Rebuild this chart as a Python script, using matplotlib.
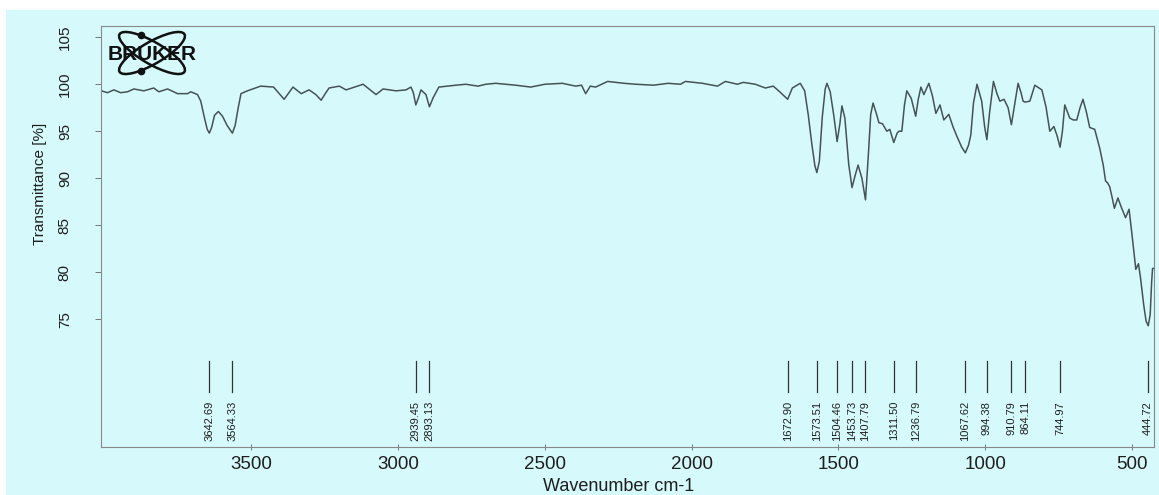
import numpy as np
import matplotlib
matplotlib.use('Agg')
import matplotlib.pyplot as plt
from matplotlib.patches import Ellipse, Rectangle

plt.rcParams['font.family'] = ['Liberation Sans', 'DejaVu Sans']

# ---------------------------------------------
# IR spectrum
# ---------------------------------------------
wavenumber = [
    4010, 3990, 3968, 3945, 3921, 3900, 3866, 3832, 3815, 3785, 3751, 3717, 3706, 3683,
    3672, 3660, 3650, 3642.69, 3635, 3625, 3612, 3598, 3582, 3564.33, 3555, 3545, 3535, 3513,
    3468, 3424, 3388, 3358, 3330, 3303, 3280, 3262, 3248, 3235, 3200, 3177, 3119, 3075, 3051,
    3007, 2973, 2956, 2948, 2939.45, 2930, 2922, 2905, 2893.13, 2880, 2861, 2803, 2769,
    2728, 2701, 2667, 2600, 2548, 2500, 2440, 2395, 2375, 2361, 2345, 2327, 2286, 2230,
    2190, 2130, 2080, 2038, 2021, 1963, 1912, 1885, 1844, 1824, 1783, 1749, 1722, 1700,
    1672.90, 1657, 1630, 1615, 1603, 1590, 1580, 1573.51, 1565, 1555, 1545, 1539, 1528,
    1515, 1504.46, 1495, 1488, 1478, 1465, 1453.73, 1443, 1433, 1420, 1407.79, 1398, 1390,
    1382, 1370, 1362, 1350, 1335, 1325, 1311.50, 1300, 1294, 1284, 1275, 1267, 1252, 1236.79,
    1228, 1219, 1209, 1192, 1180, 1168, 1154, 1141, 1124, 1110, 1097, 1080, 1067.62, 1057,
    1049, 1040, 1028, 1012, 1002, 994.38, 985, 972, 960, 950, 936, 922, 910.79, 900, 888,
    878, 871, 864.11, 848, 831, 807, 793, 780, 766, 755, 744.97, 737, 729, 712, 700, 688,
    677, 667, 655, 644, 627, 610, 598, 590, 583, 576, 568, 560, 548, 535, 522, 510, 500,
    487, 478, 471, 460, 452, 444.72, 438, 433, 430, 425,
]
transmittance = [
    99.3, 99.1, 99.4, 99.1, 99.2, 99.5, 99.3, 99.6, 99.2, 99.5, 99.0, 99.0, 99.2, 98.9,
    98.2, 96.5, 95.2, 94.8, 95.4, 96.7, 97.1, 96.6, 95.6, 94.8, 95.6, 97.4, 99.0, 99.3,
    99.8, 99.7, 98.4, 99.7, 99.0, 99.4, 98.9, 98.3, 99.0, 99.6, 99.8, 99.4, 100.0, 98.9, 99.5,
    99.3, 99.4, 99.7, 99.1, 97.8, 98.6, 99.4, 98.9, 97.6, 98.6, 99.7, 99.9, 100.0,
    99.8, 100.0, 100.1, 99.9, 99.7, 100.0, 100.1, 99.8, 99.9, 99.0, 99.8, 99.7, 100.3, 100.1,
    100.0, 99.9, 100.1, 100.0, 100.3, 100.1, 99.8, 100.3, 100.0, 100.2, 100.0, 99.6, 99.8, 99.2,
    98.4, 99.6, 100.1, 99.3, 96.8, 93.5, 91.3, 90.6, 91.8, 96.5, 99.5, 100.1, 99.2,
    96.5, 93.9, 95.8, 97.7, 96.4, 91.5, 89.0, 90.3, 91.4, 90.0, 87.7, 92.5, 96.8,
    98.0, 96.8, 95.9, 95.8, 95.0, 95.2, 93.8, 94.8, 95.0, 95.0, 97.8, 99.3, 98.5, 96.6,
    98.4, 99.7, 98.9, 100.1, 98.8, 96.9, 97.8, 96.2, 96.8, 95.5, 94.5, 93.3, 92.7, 93.5,
    94.6, 98.0, 100.0, 98.2, 95.5, 94.1, 97.0, 100.3, 99.0, 98.2, 98.4, 97.5, 95.7, 97.8, 100.1,
    99.1, 98.2, 98.1, 98.2, 99.9, 99.4, 97.6, 95.0, 95.5, 94.5, 93.3, 95.0, 97.8, 96.4, 96.2, 96.2,
    97.5, 98.4, 97.0, 95.4, 95.2, 93.2, 91.4, 89.7, 89.5, 89.1, 88.0, 86.8, 87.9, 86.8, 85.8, 86.7, 84.0,
    80.3, 80.9, 79.4, 76.5, 74.8, 74.3, 75.5, 79.0, 80.4, 80.4,
]

# annotated peak positions
peak_positions = [3642.69, 3564.33, 2939.45, 2893.13, 1672.90, 1573.51, 1504.46,
                  1453.73, 1407.79, 1311.50, 1236.79, 1067.62, 994.38, 910.79,
                  864.11, 744.97, 444.72]

BG = '#d6f9fb'
LINE = '#465356'
TXT = '#1e1e1e'

fig = plt.figure(figsize=(11.59, 4.95), dpi=100, facecolor=BG)
# white paper margins of the scan
fig.patches.append(Rectangle((0, 1 - 10 / 495), 1, 10 / 495, transform=fig.transFigure,
                             facecolor='white', edgecolor='none', zorder=-1))
fig.patches.append(Rectangle((0, 0), 6 / 1159, 1, transform=fig.transFigure,
                             facecolor='white', edgecolor='none', zorder=-1))

ax = fig.add_axes([0.0871, 0.097, 0.9086, 0.8505])
ax.set_facecolor(BG)

ax.plot(wavenumber, transmittance, color=LINE, lw=1.1)

# peak marker lines + labels
for p in peak_positions:
    ax.plot([p, p], [67.2, 70.6], color='#333333', lw=0.9)
    ax.text(p, 66.3, f'{p:.2f}', rotation=90, ha='center', va='top',
            fontsize=8, color=TXT)

ax.set_xlim(4012, 425)
ax.set_ylim(61.4, 106.2)
ax.set_xticks([3500, 3000, 2500, 2000, 1500, 1000, 500])
ax.set_yticks([75, 80, 85, 90, 95, 100, 105])
ax.tick_params(axis='x', direction='inout', length=5, width=0.7, color='#777777',
               labelsize=13.5, pad=4, labelcolor=TXT)
ax.tick_params(axis='y', direction='out', length=4, width=0.7, color='#777777',
               labelsize=11, pad=17, labelcolor=TXT)
for lab in ax.get_yticklabels():
    lab.set_rotation(90)
    lab.set_va('center')
for s in ax.spines.values():
    s.set_color('#8a8a8a')
    s.set_linewidth(0.8)

fig.text(0.534, 0.017, 'Wavenumber cm-1', ha='center', va='center',
         fontsize=13, color=TXT)
fig.text(0.0345, 0.628, 'Transmittance [%]', ha='center', va='center',
         rotation=90, fontsize=11, color=TXT)

# Bruker logo
lg = fig.add_axes([102 / 1159, 1 - 77 / 495, 100 / 1159, 48 / 495])
lg.set_xlim(0, 100)
lg.set_ylim(0, 48)
lg.axis('off')
cx, cy, a, b = 50, 24, 37.5, 11
for ang in (30, -30):
    lg.add_patch(Ellipse((cx, cy), 2 * a, 2 * b, angle=ang, fill=False,
                         lw=1.8, color='#111111'))
lg.plot([cx - 11.5, cx - 11.5], [cy + 17.6, cy - 17.6], 'o', color='#111111', ms=4.5)
lg.text(cx, cy - 1, 'BRUKER', ha='center', va='center', fontsize=15,
        fontweight='bold', color='#111111')

fig.savefig('out.png', dpi=100, facecolor=BG)
